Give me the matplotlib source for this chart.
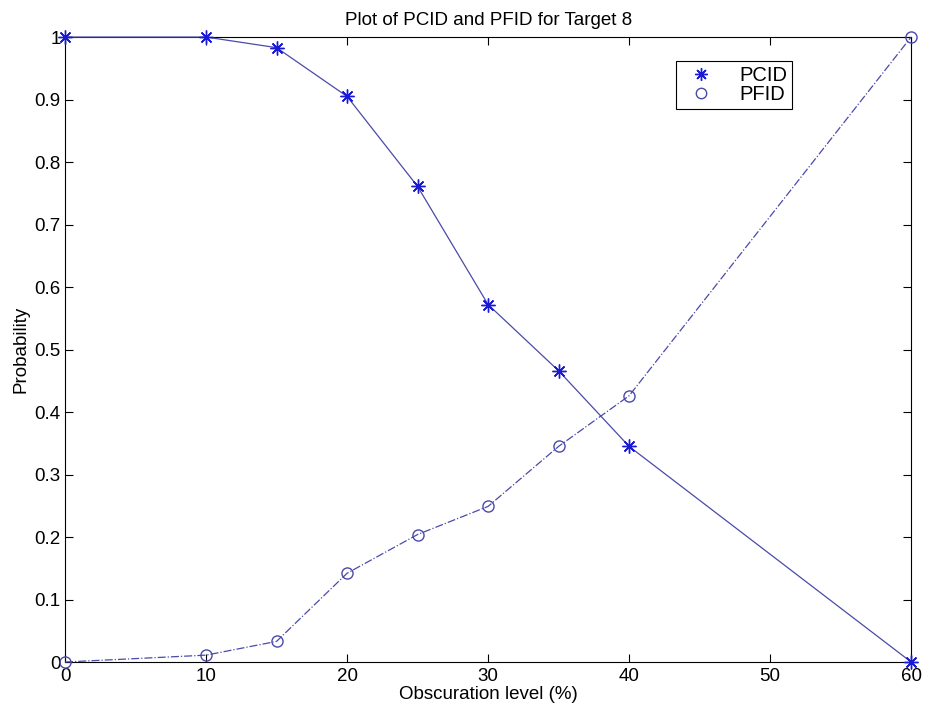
import matplotlib
matplotlib.use("Agg")
import matplotlib.pyplot as plt
from matplotlib.lines import Line2D

plt.rcParams['font.family'] = ['Liberation Sans', 'DejaVu Sans']

# Obscuration levels (%) and probabilities
obscuration = [0, 10, 15, 20, 25, 30, 35, 40, 60]
pcid = [1.0, 1.0, 0.983, 0.905, 0.761, 0.572, 0.466, 0.345, 0.0]
pfid = [0.0, 0.011, 0.033, 0.142, 0.204, 0.249, 0.345, 0.426, 1.0]

x_ticks = [0, 10, 20, 30, 40, 50, 60]
y_ticks = [0, 0.1, 0.2, 0.3, 0.4, 0.5, 0.6, 0.7, 0.8, 0.9, 1.0]
y_ticklabels = ['0', '0.1', '0.2', '0.3', '0.4', '0.5', '0.6', '0.7', '0.8', '0.9', '1']

line_col = '#4a4aaa'
mark_col = '#1a1ad2'
fs = 13.5

fig = plt.figure(figsize=(9.25, 7.15), dpi=100)
ax = fig.add_axes([0.0703, 0.0741, 0.9147, 0.8741])

asterisk = (8, 2, 0)
ax.plot(obscuration, pcid, '-', color=line_col, lw=0.9,
        marker=asterisk, markersize=10, markeredgecolor=mark_col,
        markeredgewidth=1.0, clip_on=False, zorder=3)
ax.plot(obscuration, pfid, '-.', color=line_col, lw=0.9,
        marker='o', markersize=8, markerfacecolor='none',
        markeredgecolor=line_col, markeredgewidth=1.0,
        clip_on=False, zorder=3)

ax.set_xlim(0, 60)
ax.set_ylim(0, 1)
ax.set_xticks(x_ticks)
ax.set_xticklabels([str(t) for t in x_ticks])
ax.set_yticks(y_ticks)
ax.set_yticklabels(y_ticklabels)

ax.tick_params(direction='in', length=6, width=0.8, top=True, right=True,
               labelsize=fs, colors='black')
ax.tick_params(axis='x', pad=4)
ax.tick_params(axis='y', pad=3)
for s in ax.spines.values():
    s.set_linewidth(0.8)
    s.set_color('black')

ax.set_title('Plot of PCID and PFID for Target 8', fontsize=fs, pad=9)
ax.set_xlabel('Obscuration level (%)', fontsize=fs, labelpad=1)
ax.set_ylabel('Probability', fontsize=fs, labelpad=4)

handles = [
    Line2D([], [], linestyle='none', marker=asterisk, markersize=9,
           markeredgecolor=mark_col, markeredgewidth=1.0, color=mark_col),
    Line2D([], [], linestyle='none', marker='o', markersize=7.5,
           markerfacecolor='none', markeredgecolor=line_col,
           markeredgewidth=1.0),
]
leg = ax.legend(handles, ['PCID', 'PFID'], loc='upper left',
                bbox_to_anchor=(0.722, 0.962), fontsize=14.5,
                frameon=True, fancybox=False, edgecolor='black',
                framealpha=1, borderpad=0.25, labelspacing=0.0,
                handlelength=2.0, handletextpad=0.9, borderaxespad=0)
leg.get_frame().set_linewidth(0.8)

fig.savefig('out.png', dpi=100)
